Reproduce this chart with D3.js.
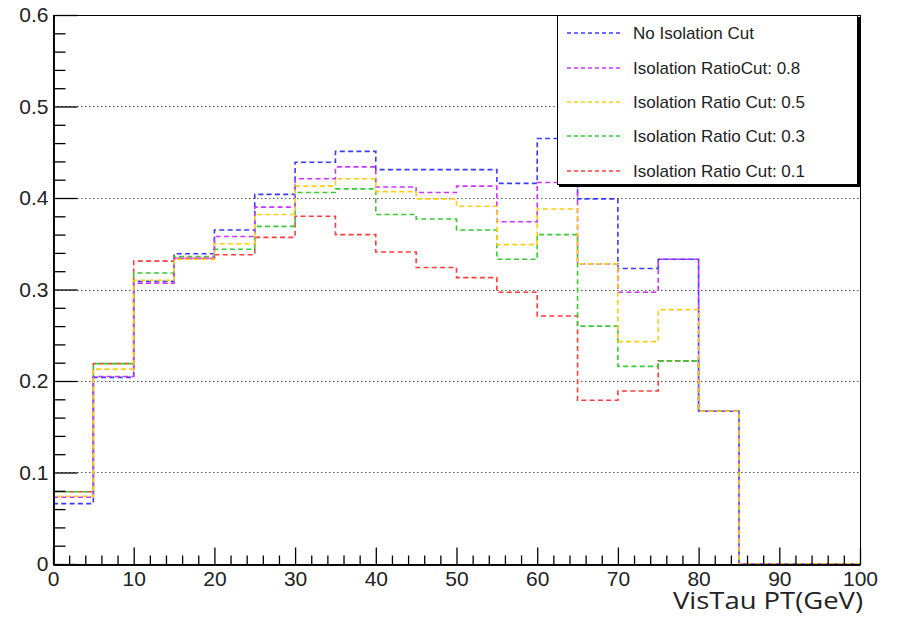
<!DOCTYPE html>
<html>
<head>
<meta charset="utf-8">
<script src="https://cdn.jsdelivr.net/npm/d3@7"></script>
<style>
  html, body { margin: 0; padding: 0; background: #fff; }
  svg { display: block; }
</style>
</head>
<body>
<svg id="chart" width="897" height="617"></svg>
<script>
// ---- Data ----
const binEdges = [0,5,10,15,20,25,30,35,40,45,50,55,60,65,70,75,80,85,90,95,100];
const seriesNames = [
  "No Isolation Cut",
  "Isolation RatioCut: 0.8",
  "Isolation Ratio Cut: 0.5",
  "Isolation Ratio Cut: 0.3",
  "Isolation Ratio Cut: 0.1"
];
const noCut   = [0.066,0.204,0.309,0.339,0.365,0.404,0.439,0.451,0.431,0.431,0.431,0.416,0.465,0.399,0.323,0.333,0.167,0,0,0];
const cut08   = [0.073,0.205,0.307,0.334,0.358,0.390,0.421,0.434,0.412,0.406,0.413,0.374,0.417,0.328,0.297,0.333,0.167,0,0,0];
const cut05   = [0.074,0.213,0.310,0.333,0.350,0.382,0.413,0.421,0.407,0.399,0.391,0.349,0.388,0.328,0.243,0.278,0.167,0,0,0];
const cut03   = [0.079,0.219,0.318,0.336,0.344,0.369,0.406,0.410,0.382,0.377,0.365,0.333,0.360,0.260,0.216,0.222,0.167,0,0,0];
const cut01   = [0.079,0.219,0.331,0.334,0.338,0.357,0.380,0.360,0.341,0.324,0.313,0.297,0.271,0.179,0.189,0.222,0.167,0,0,0];
const seriesValues = [noCut, cut08, cut05, cut03, cut01];
const seriesColors = ["#3a3aff", "#cc33ff", "#ffcc11", "#33cc33", "#ff3b3b"];
const xTickMajor = [0,10,20,30,40,50,60,70,80,90,100];
const yTickMajor = [0,0.1,0.2,0.3,0.4,0.5,0.6];
const yTickLabels = ["0","0.1","0.2","0.3","0.4","0.5","0.6"];
const xTitle = "VisTau PT(GeV)";

// ---- Layout ----
const L = 53, R = 860, T = 15, B = 564;
const svg = d3.select("#chart");
const x = d3.scaleLinear().domain([0,100]).range([L,R]);
const y = d3.scaleLinear().domain([0,0.6]).range([B,T]);

// grid (horizontal dotted)
svg.append("g").selectAll("line")
  .data(yTickMajor.filter(v => v > 0 && v < 0.6))
  .join("line")
  .attr("x1", L).attr("x2", R)
  .attr("y1", d => Math.round(y(d)) + 0.5).attr("y2", d => Math.round(y(d)) + 0.5)
  .attr("stroke", "#555").attr("stroke-width", 1.2)
  .attr("stroke-dasharray", "1.5,2.5");

// frame
svg.append("rect").attr("x", L + 0.5).attr("y", T + 0.5)
  .attr("width", R - L).attr("height", B - T)
  .attr("fill", "none").attr("stroke", "#000").attr("stroke-width", 1);

// histograms
const drawOrder = [0, 4, 3, 1, 2];
const dashOffsets = [0, 0, 4, 4, 0];
const line = d3.line().x(d => x(d[0])).y(d => y(d[1])).curve(d3.curveStepAfter);
drawOrder.forEach(i => {
  const vals = seriesValues[i];
  const pts = vals.map((v, k) => [binEdges[k], v]);
  pts.push([binEdges[binEdges.length - 1], vals[vals.length - 1]]);
  svg.append("path")
    .attr("d", line(pts))
    .attr("fill", "none")
    .attr("stroke", seriesColors[i])
    .attr("stroke-width", 1.6)
    .attr("stroke-dasharray", "5,3.3")
    .attr("stroke-dashoffset", dashOffsets[i]);
});

// axes
const fontTick = "'Liberation Sans', Arial, sans-serif";
const yMinor = d3.range(0, 0.6001, 0.02).filter(v => Math.abs(Math.round(v*10) - v*10) > 1e-6);
const xMinor = d3.range(0, 100.01, 2).filter(v => v % 10 !== 0);

const yAxisMinor = svg.append("g").attr("transform", `translate(${L + 0.5},0)`)
  .call(d3.axisLeft(y).tickValues(yMinor).tickSizeInner(-12).tickSizeOuter(0).tickFormat(""));
const yAxis = svg.append("g").attr("transform", `translate(${L + 0.5},0)`)
  .call(d3.axisLeft(y).tickValues(yTickMajor).tickSizeInner(-24).tickSizeOuter(0).tickPadding(5)
    .tickFormat((d, i) => yTickLabels[i]));
const xAxisMinor = svg.append("g").attr("transform", `translate(0,${B + 0.5})`)
  .call(d3.axisBottom(x).tickValues(xMinor).tickSizeInner(-9).tickSizeOuter(0).tickFormat(""));
const xAxis = svg.append("g").attr("transform", `translate(0,${B + 0.5})`)
  .call(d3.axisBottom(x).tickValues(xTickMajor).tickSizeInner(-17).tickSizeOuter(0).tickPadding(7)
    .tickFormat(d3.format("d")));

[yAxisMinor, yAxis, xAxisMinor, xAxis].forEach(g => {
  g.select(".domain").attr("stroke", "#000").attr("stroke-width", 1.5);
  g.selectAll(".tick line").attr("stroke", "#000").attr("stroke-width", 1.3);
  g.selectAll(".tick text").attr("fill", "#222")
    .style("font-family", fontTick).style("font-size", "21px");
});

// axis title
svg.append("text")
  .attr("x", 863).attr("y", 609)
  .attr("text-anchor", "end")
  .attr("textLength", 190)
  .attr("lengthAdjust", "spacingAndGlyphs")
  .style("font-family", "'Open Sans', sans-serif")
  .style("font-size", "24px")
  .attr("fill", "#222")
  .text(xTitle);

// legend
const lg = svg.append("g");
lg.append("rect").attr("x", 559).attr("y", 17).attr("width", 301).attr("height", 170).attr("fill", "#000");
lg.append("rect").attr("x", 557.5).attr("y", 15.5).attr("width", 300).attr("height", 169)
  .attr("fill", "#fff").attr("stroke", "#000").attr("stroke-width", 1);
const rowY = [33, 68, 102, 136, 171];
seriesNames.forEach((name, i) => {
  lg.append("line").attr("x1", 567).attr("x2", 621)
    .attr("y1", rowY[i]).attr("y2", rowY[i])
    .attr("stroke", seriesColors[i]).attr("stroke-width", 1.4)
    .attr("stroke-dasharray", "4,3");
  lg.append("text").attr("x", 633).attr("y", rowY[i]).attr("dy", "0.35em")
    .style("font-family", fontTick).style("font-size", "17px")
    .attr("fill", "#222").text(name);
});
</script>
</body>
</html>
